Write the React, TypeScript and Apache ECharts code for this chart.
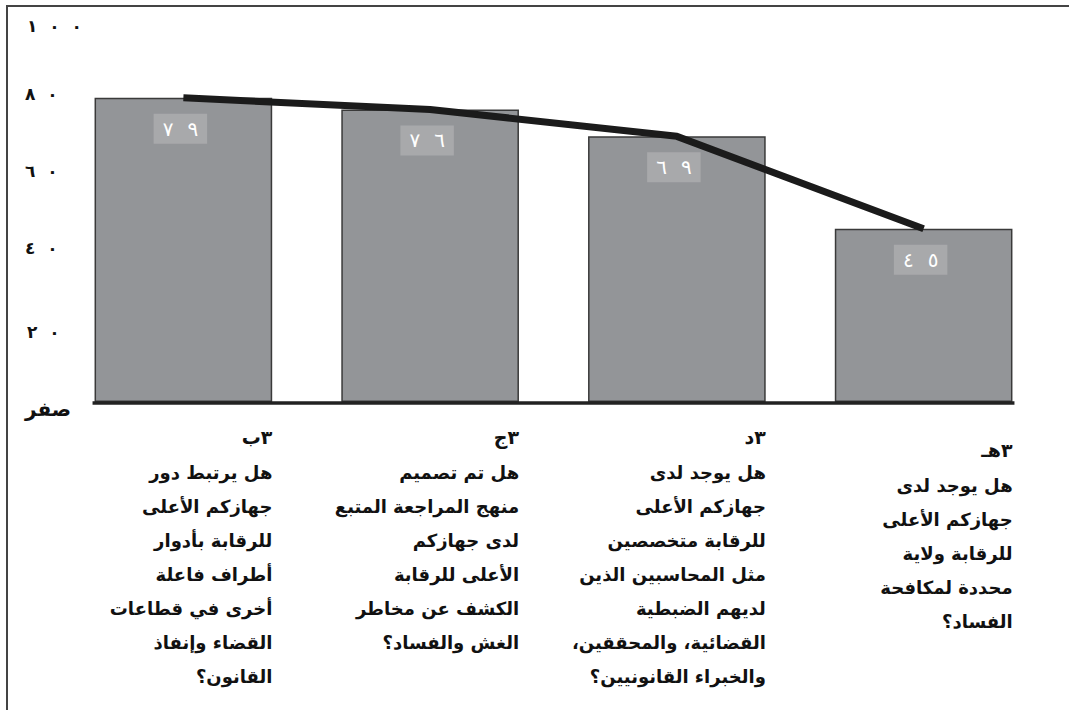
import React, { useEffect, useRef } from 'react';
import * as echarts from 'echarts';

// ---- data ----
const categories = ['3b', '3j', '3d', '3h'];
const categoryHeads = ['٣ب', '٣ج', '٣د', '٣هـ'];
const categoryLines: string[][] = [
  ['هل يرتبط دور', 'جهازكم الأعلى', 'للرقابة بأدوار', 'أطراف فاعلة', 'أخرى في قطاعات', 'القضاء وإنفاذ', 'القانون؟'],
  ['هل تم تصميم', 'منهج المراجعة المتبع', 'لدى جهازكم', 'الأعلى للرقابة', 'الكشف عن مخاطر', 'الغش والفساد؟'],
  ['هل يوجد لدى', 'جهازكم الأعلى', 'للرقابة متخصصين', 'مثل المحاسبين الذين', 'لديهم الضبطية', 'القضائية، والمحققين،', 'والخبراء القانونيين؟'],
  ['هل يوجد لدى', 'جهازكم الأعلى', 'للرقابة ولاية', 'محددة لمكافحة', 'الفساد؟'],
];
const categoryExtraTop = [0, 0, 0, 13];
const barValues = [79, 76, 69, 45];
const lineValues = [79, 76, 69, 45];
const yMin = 0;
const yMax = 100;
const yInterval = 20;
const zeroLabel = 'صفر';

const AR_DIGITS = '٠١٢٣٤٥٦٧٨٩';
const LRM = '\u200E';
const RLM = '\u200F';
function arabicSpaced(n: number, gap: string): string {
  const ds = String(n).split('').map((d) => AR_DIGITS[+d]);
  return LRM + ds.join(LRM + gap + LRM) + LRM;
}
const rtl = (s: string) => RLM + s + RLM;

const FONT = 'DejaVu Sans';

export default function App() {
  const ref = useRef<HTMLDivElement>(null);
  useEffect(() => {
    if (!ref.current) return;
    const chart = echarts.init(ref.current, null, { renderer: 'svg' });
    const yBase = { fontSize: 17, fontWeight: 'bold', color: '#111', fontFamily: FONT, align: 'left' };
    const option: any = {
      animation: false,
      backgroundColor: '#ffffff',
      grid: { left: 60, right: 22, top: 17, bottom: 308, containLabel: false },
      xAxis: {
        type: 'category',
        data: categories,
        axisLine: { show: false },
        axisTick: { show: false },
        splitLine: { show: false },
        axisLabel: {
          interval: 0,
          margin: 16,
          fontFamily: FONT,
          formatter: (_v: string, idx: number) => {
            const parts: string[] = [];
            if (categoryExtraTop[idx] > 0) parts.push('{g| }');
            parts.push('{h|' + rtl(categoryHeads[idx]) + '}');
            categoryLines[idx].forEach((l) => parts.push('{t|' + rtl(l) + '}'));
            return parts.join('\n');
          },
          rich: {
            g: { lineHeight: 13, fontSize: 10, width: 178 },
            h: { fontSize: 19, fontWeight: 'bold', color: '#111', width: 178, align: 'right', lineHeight: 37, fontFamily: FONT },
            t: { fontSize: 18, fontWeight: 'bold', color: '#111', width: 178, align: 'right', lineHeight: 34, fontFamily: FONT },
          },
        },
      },
      yAxis: {
        type: 'value',
        min: yMin,
        max: yMax,
        interval: yInterval,
        axisLine: { show: false },
        axisTick: { show: false },
        splitLine: { show: false },
        axisLabel: {
          align: 'left',
          margin: 35,
          fontSize: 17,
          fontWeight: 'bold',
          color: '#111',
          fontFamily: FONT,
          formatter: (v: number) => {
            if (v === 0) return '{z|' + zeroLabel + '}';
            const s = arabicSpaced(v, '\u2002\u2009');
            if (v === 100) return '{top|' + s + '}';
            if (v === 20) return '{low|' + s + '}';
            return '{n|' + s + '}';
          },
          rich: {
            n: { ...yBase },
            top: { ...yBase, padding: [18, 0, 0, 2] },
            low: { ...yBase, padding: [14, 0, 0, 2] },
            z: { ...yBase, fontSize: 20, padding: [14, 0, 0, 0] },
          },
        },
      },
      series: [
        {
          type: 'bar',
          data: barValues,
          barWidth: '72%',
          itemStyle: { color: '#939598', borderColor: '#3a3a3a', borderWidth: 1.5 },
          label: {
            show: true,
            position: 'insideTop',
            distance: 16,
            offset: [-3, 0],
            color: '#ffffff',
            fontSize: 20,
            fontFamily: FONT,
            backgroundColor: '#a8a9ab',
            padding: [5, 9, 5, 9],
            formatter: (p: any) => arabicSpaced(p.value, '\u2002\u2009'),
          },
          z: 2,
        },
        {
          type: 'line',
          data: lineValues,
          symbol: 'none',
          lineStyle: { color: '#1b1b1b', width: 7 },
          z: 5,
        },
      ],
    };
    chart.setOption(option);

    const pFirst = chart.convertToPixel({ gridIndex: 0 }, [0, 0]) as number[];
    const pLast = chart.convertToPixel({ gridIndex: 0 }, [categories.length - 1, 0]) as number[];
    const pSecond = chart.convertToPixel({ gridIndex: 0 }, [1, 0]) as number[];
    const band = pSecond[0] - pFirst[0];
    const hw = (band * 0.72) / 2;
    chart.setOption({
      graphic: [
        {
          type: 'rect',
          shape: { x: 7, y: 6, width: 1200, height: 900 },
          style: { fill: 'none', stroke: '#444444', lineWidth: 2 },
          silent: true,
          z: 0,
        },
        {
          type: 'line',
          shape: { x1: pFirst[0] - hw - 2, y1: pFirst[1] + 1, x2: pLast[0] + hw + 2, y2: pLast[1] + 1 },
          style: { stroke: '#222222', lineWidth: 3.5 },
          silent: true,
          z: 10,
        },
      ],
    });
    return () => chart.dispose();
  }, []);
  return (
    <div
      ref={ref}
      style={{ position: 'fixed', left: 0, top: 0, width: 1069, height: 710, background: '#fff' }}
    />
  );
}
